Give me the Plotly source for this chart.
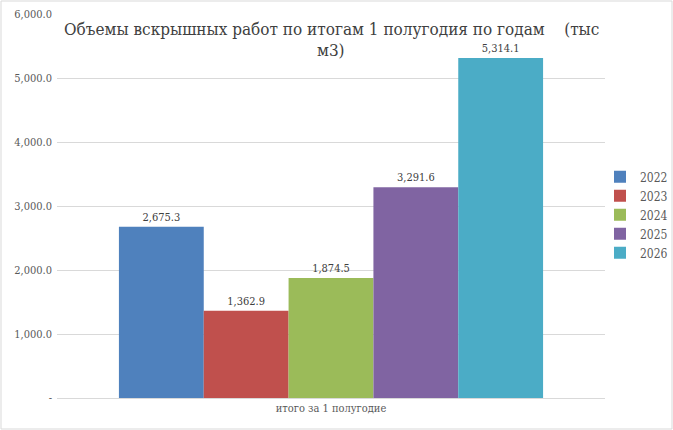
import plotly.graph_objects as go

category = ["итого за 1 полугодие"]
years = ["2022", "2023", "2024", "2025", "2026"]
values = [2675.3, 1362.9, 1874.5, 3291.6, 5314.1]
colors = ["#4F81BD", "#C0504D", "#9BBB59", "#8064A2", "#4BACC6"]
tick_vals = [0, 1000, 2000, 3000, 4000, 5000, 6000]
tick_text = ["-", "1,000.0", "2,000.0", "3,000.0", "4,000.0", "5,000.0", "6,000.0"]
title_lines = ["Объемы вскрышных работ по итогам 1 полугодия по годам    (тыс", "м3)"]

SERIF = "DejaVu Serif Condensed, DejaVu Serif"
W, H = 673, 430
L, R, T, B = 57, 68, 14, 32
pw, ph = W - L - R, H - T - B

fig = go.Figure()
for yr, v, c in zip(years, values, colors):
    fig.add_trace(go.Bar(
        name=yr, x=category, y=[v], marker_color=c, marker_line_width=0,
        texttemplate="%{y:,.1f}", textposition="outside",
        textfont=dict(family=SERIF, size=11, color="#404040"),
        cliponaxis=False,
    ))

fig.update_layout(
    width=W, height=H, margin=dict(l=L, r=R, t=T, b=B, autoexpand=False),
    paper_bgcolor="white", plot_bgcolor="white",
    barmode="group", bargap=0.226, bargroupgap=0,
    font=dict(family=SERIF, color="#595959"),
    showlegend=True,
    legend=dict(x=(600 - L) / pw, xanchor="left", y=0.477, yanchor="middle",
                font=dict(family=SERIF, size=12, color="#595959"),
                bgcolor="rgba(0,0,0,0)", tracegroupgap=0),
    xaxis=dict(showgrid=False, showline=True, linecolor="#D9D9D9", linewidth=1,
               tickfont=dict(family=SERIF, size=11, color="#595959"),
               ticks=""),
    yaxis=dict(range=[0, 6000], tickvals=tick_vals, ticktext=tick_text,
               showgrid=True, gridcolor="#D9D9D9", gridwidth=1, zeroline=False,
               showline=False, ticks="", ticklabelstandoff=4,
               tickfont=dict(family=SERIF, size=11, color="#595959")),
)

fig.add_annotation(text=title_lines[0], xref="paper", yref="paper",
                   x=0.5, y=(H - B - 29) / ph, xanchor="center", yanchor="middle",
                   showarrow=False,
                   font=dict(family=SERIF, size=17, color="#404040"))
fig.add_annotation(text=title_lines[1], xref="paper", yref="paper",
                   x=0.5, y=(H - B - 50) / ph, xanchor="center", yanchor="middle",
                   showarrow=False,
                   font=dict(family=SERIF, size=17, color="#404040"))

fig.add_shape(type="rect", xref="paper", yref="paper",
              x0=(1 - L) / pw, x1=(W - 1 - L) / pw,
              y0=(H - B - (H - 1)) / ph, y1=(H - B - 1) / ph,
              line=dict(color="#D9D9D9", width=1), fillcolor="rgba(0,0,0,0)", layer="below")

fig.write_html("out.html")
